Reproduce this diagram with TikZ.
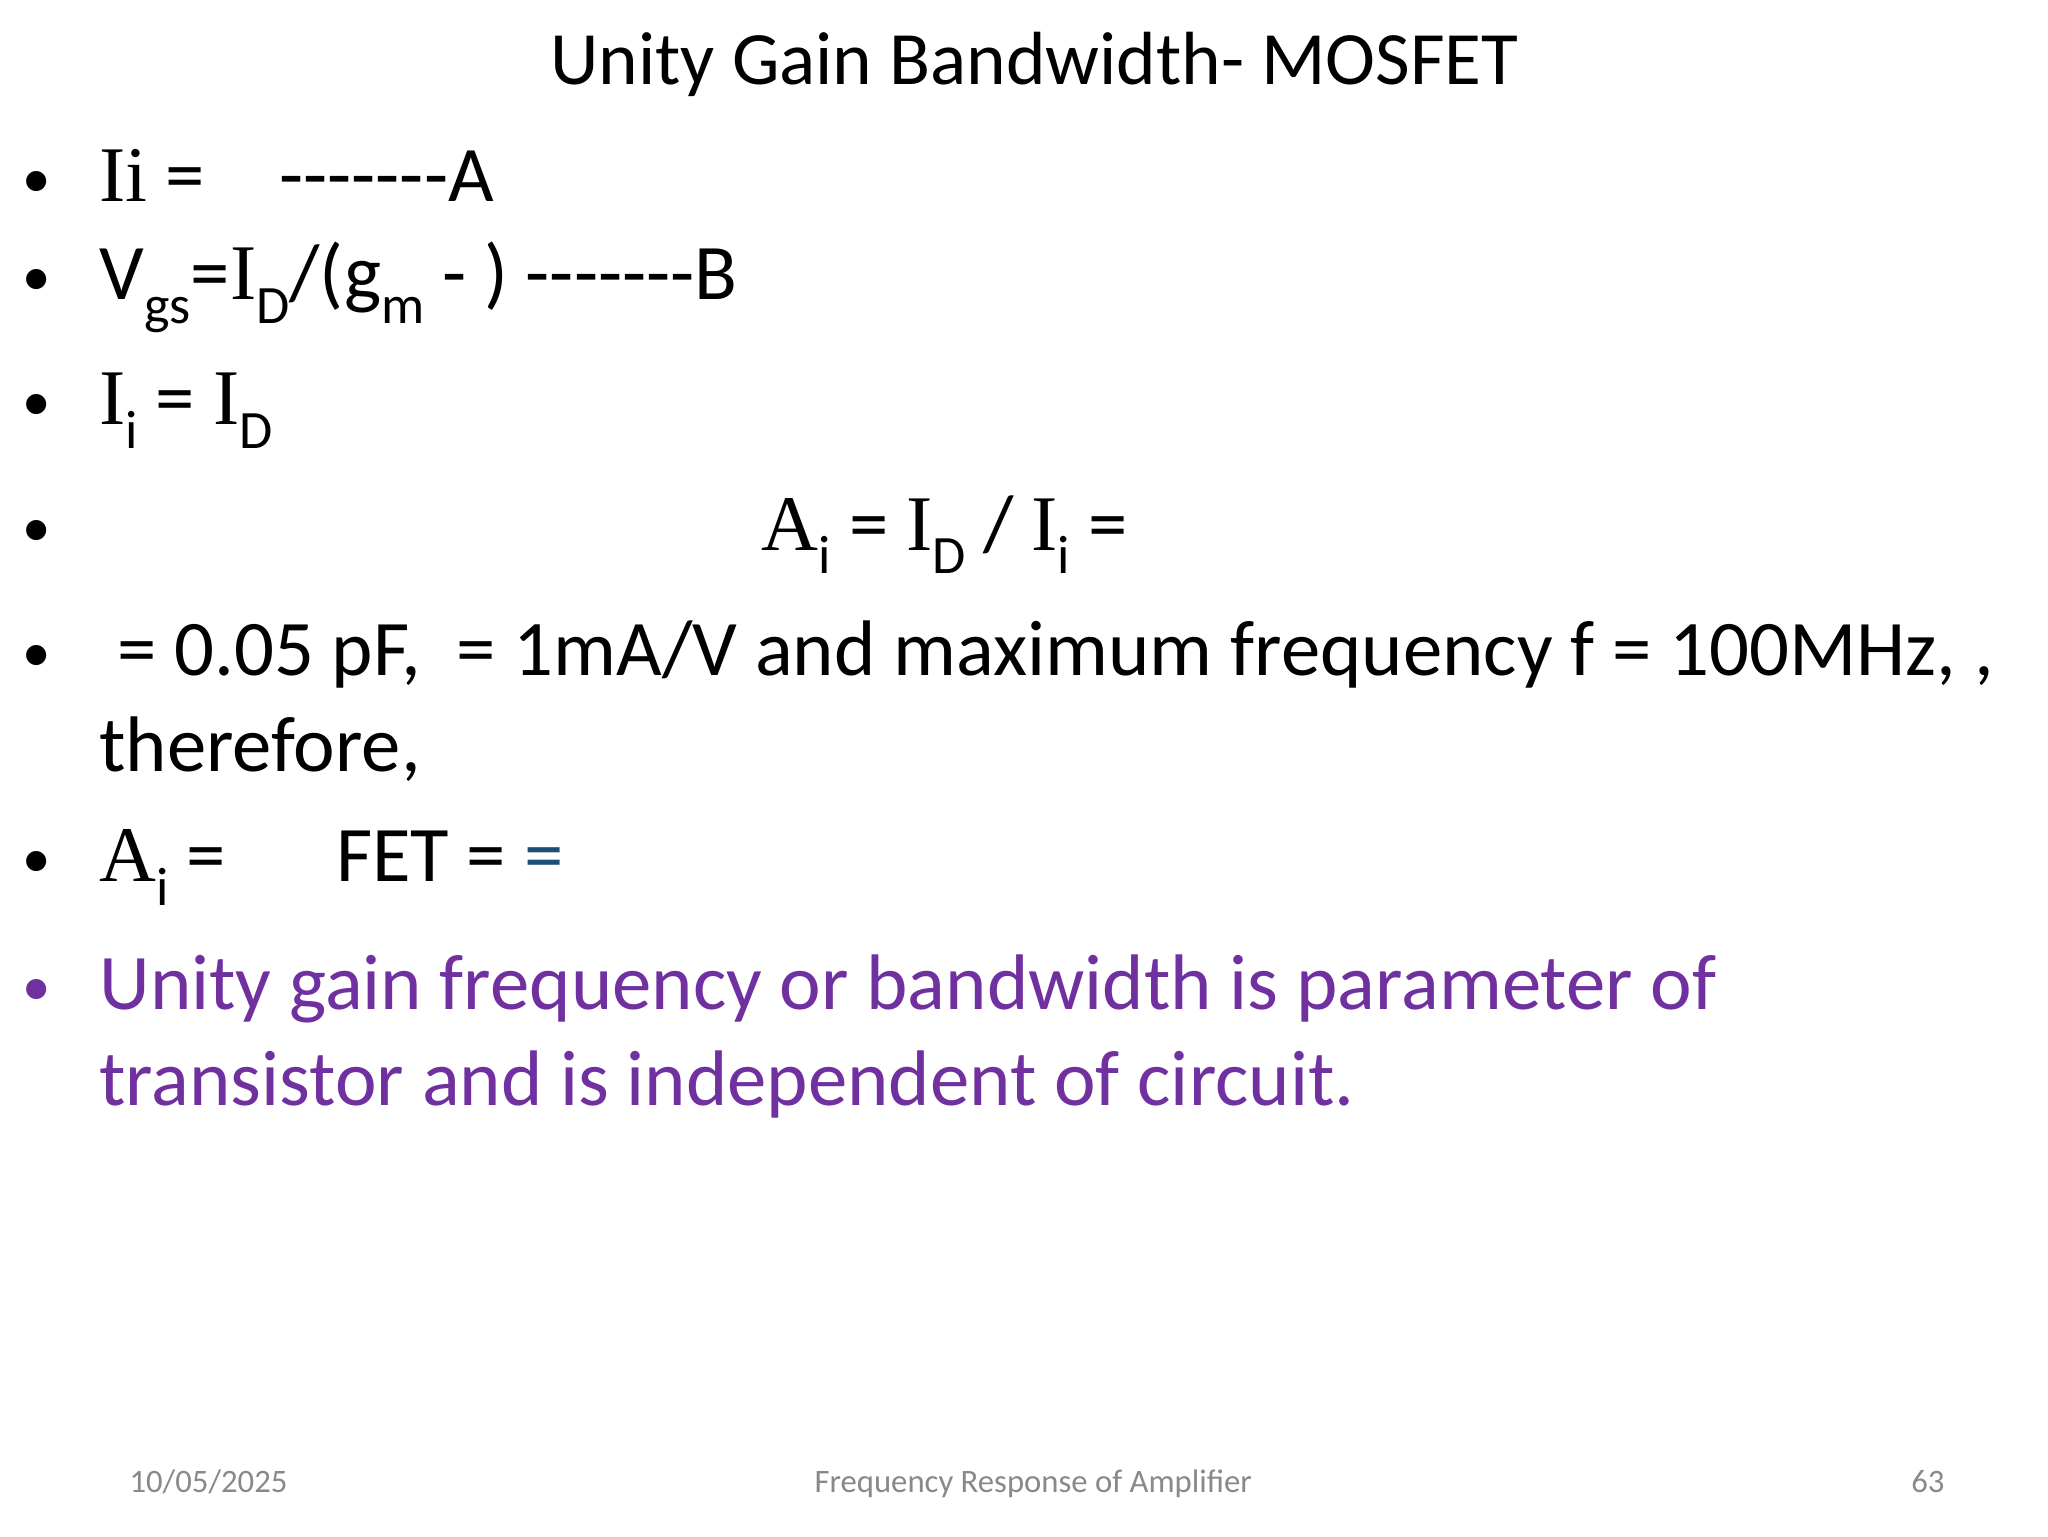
\documentclass[tikz,border=0pt]{standalone}
\usepackage{fontspec}
\setmainfont{Carlito}[Ligatures=TeXOff]
\newfontfamily\ser{Liberation Serif}
\definecolor{purp}{RGB}{112,48,160}
\definecolor{blu}{RGB}{31,78,121}
\definecolor{foot}{RGB}{137,137,137}
\newcommand{\sub}[1]{\raisebox{-0.3em}{\fontsize{19}{20}\selectfont #1}}
\begin{document}
\begin{tikzpicture}[x=0.464pt,y=-0.464pt,
  txt/.style={anchor=base west,inner sep=0pt,font=\fontsize{27.7}{34}\selectfont},
  bul/.style={anchor=base,inner sep=0pt,font=\fontsize{20}{24}\selectfont},
  ft/.style={anchor=base,inner sep=0pt,text=foot,font=\fontsize{11.5}{14}\selectfont}]
\useasboundingbox[fill=white] (0,0) rectangle (1552,1164);
\node[anchor=base,inner sep=0pt,font=\fontsize{26.5}{32}\selectfont] (title) at (784,64) {Unity Gain Bandwidth- MOSFET};
\foreach \y/\n in {150/b1,224/b2,319/b3,414/b4,509/b5,665/b7}{\node[bul] (\n) at (28,\y) {•};}
\node[bul,text=purp] (b8) at (28,762) {•};
\node[txt] (l1) at (75,153) {{\ser Ii} =\hspace{0.95em}-------A};
\node[txt] (l2) at (75,227) {V\sub{gs}={\ser I}\sub{D}/(g\sub{m} - ) -------B};
\node[txt] (l3) at (75,322) {{\ser I}\sub{i}~= {\ser I}\sub{D}};
\node[txt] (l4) at (577,417) {{\ser A}\sub{i}~= {\ser I}\sub{D}~/ {\ser I}\sub{i}~=};
\node[txt] (l5) at (75,512) {\ = 0.05 pF,\ \ = 1mA/V and maximum frequency f = 100MHz, ,};
\node[txt] (l6) at (75,585) {therefore,};
\node[txt] (l7) at (75,668) {{\ser A}\sub{i}~=\hspace{1.4em}FET = \textcolor{blu}{=}};
\node[txt,text=purp] (l8) at (75,765) {Unity gain frequency or bandwidth is parameter of};
\node[txt,text=purp] (l9) at (75,838) {transistor and is independent of circuit.};
\node[ft] (f1) at (158,1131) {10/05/2025};
\node[ft] (f2) at (783,1131) {Frequency Response of Amplifier};
\node[ft] (f3) at (1461,1131) {63};
\end{tikzpicture}
\end{document}
